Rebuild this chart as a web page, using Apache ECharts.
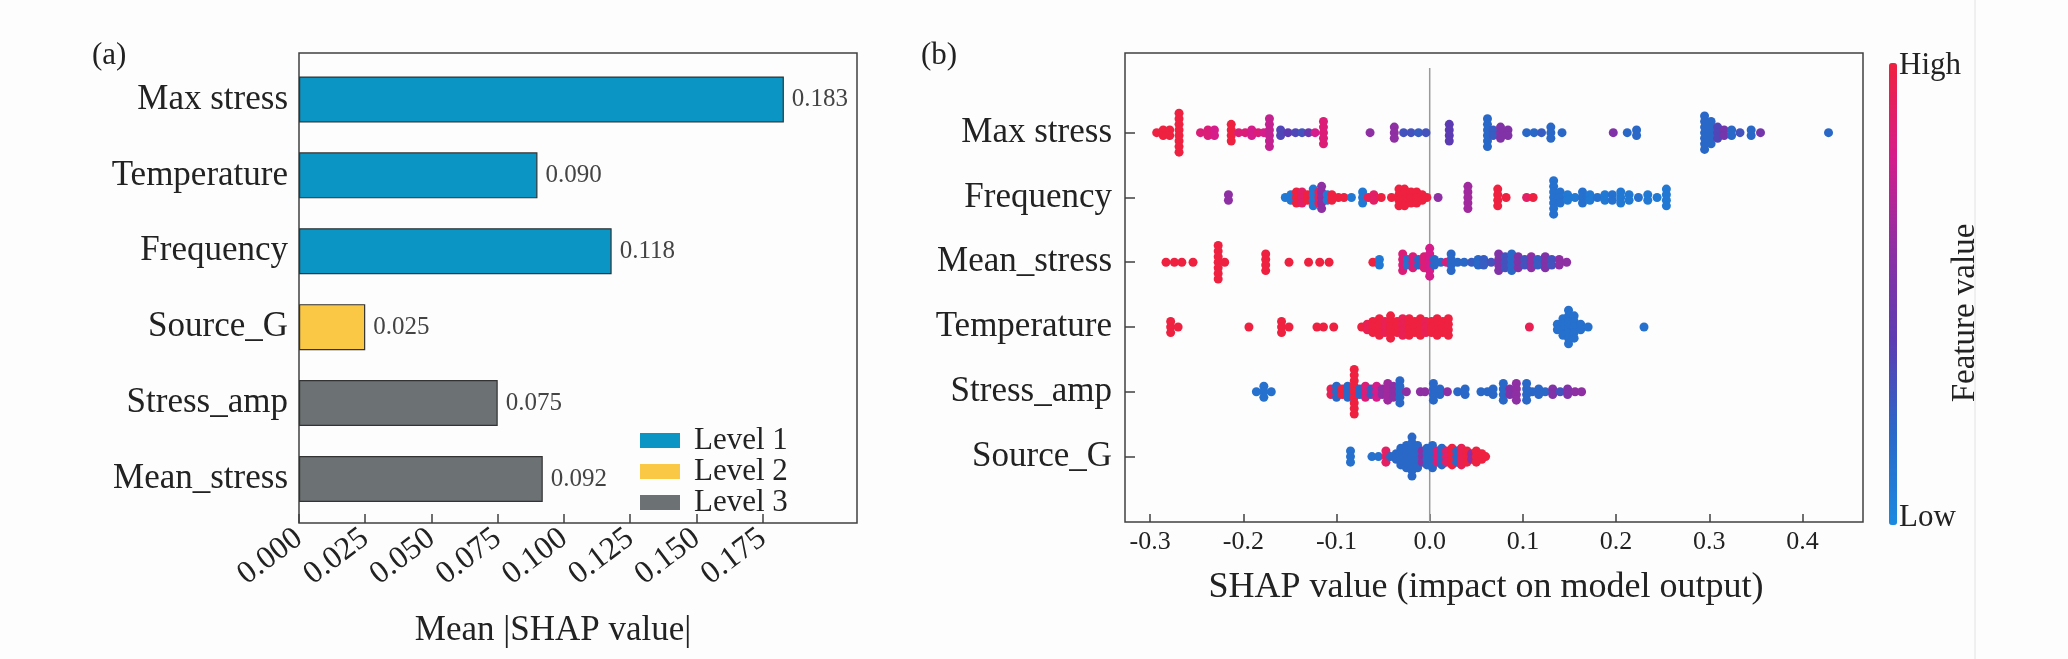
<!DOCTYPE html>
<html>
<head>
<meta charset="utf-8">
<title>SHAP importance</title>
<script src="https://cdn.jsdelivr.net/npm/echarts@6/dist/echarts.min.js"></script>
<style>
  html, body { margin: 0; padding: 0; background: #fdfdfd; }
  #chart { width: 2068px; height: 659px; }
</style>
</head>
<body>
<div id="chart"></div>
<script>
// (a) mean |SHAP| per feature, listed top to bottom
const barFeatures = ['Max stress', 'Temperature', 'Frequency', 'Source_G', 'Stress_amp', 'Mean_stress'];
const meanShap = [0.183, 0.090, 0.118, 0.025, 0.075, 0.092];
const barLevel = [1, 1, 1, 2, 3, 3];
const levelNames = ['Level 1', 'Level 2', 'Level 3'];
const levelColors = ['#0a95c4', '#fac844', '#6c7274'];
const meanTicks = [0, 0.025, 0.05, 0.075, 0.1, 0.125, 0.15, 0.175];

// (b) beeswarm rows, top to bottom
// each entry: [shap value, dots stacked at that x, feature value 0 (low) .. 1 (high)]
const swarmFeatures = ['Max stress', 'Frequency', 'Mean_stress', 'Temperature', 'Stress_amp', 'Source_G'];

const maxStressPts = [
  [-0.293, 1, 1], [-0.286, 2, 1], [-0.279, 2, 1], [-0.269, 8, 1],
  [-0.246, 1, 0.85], [-0.238, 2, 0.85], [-0.231, 2, 0.8],
  [-0.213, 4, 1],
  [-0.205, 1, 0.85], [-0.198, 1, 0.85], [-0.191, 2, 0.8], [-0.184, 1, 0.85], [-0.178, 1, 0.8],
  [-0.172, 6, 0.75],
  [-0.160, 2, 0.35], [-0.152, 1, 0.4], [-0.144, 1, 0.35], [-0.137, 1, 0.3], [-0.130, 1, 0.45], [-0.123, 1, 0.8],
  [-0.114, 5, 0.85],
  [-0.064, 1, 0.6],
  [-0.038, 3, 0.6],
  [-0.028, 1, 0.3], [-0.020, 1, 0.3], [-0.012, 1, 0.25], [-0.004, 1, 0.3],
  [0.021, 4, 0.4],
  [0.062, 6, 0.2], [0.068, 2, 0.25], [0.076, 3, 0.55], [0.084, 2, 0.55],
  [0.104, 1, 0.2], [0.112, 1, 0.2], [0.120, 1, 0.25], [0.130, 3, 0.2], [0.142, 1, 0.2],
  [0.197, 1, 0.55], [0.212, 1, 0.2], [0.222, 2, 0.2],
  [0.295, 7, 0.2], [0.302, 5, 0.2], [0.309, 3, 0.35], [0.316, 2, 0.5], [0.324, 2, 0.2],
  [0.333, 1, 0.3], [0.345, 2, 0.2], [0.355, 1, 0.5],
  [0.428, 1, 0.2]
];

const frequencyPts = [
  [-0.216, 2, 0.6],
  [-0.155, 1, 0.1], [-0.149, 2, 0.1], [-0.143, 3, 1], [-0.137, 3, 0.9], [-0.131, 2, 1],
  [-0.125, 4, 0.1], [-0.119, 3, 0.95], [-0.116, 5, 0.6], [-0.110, 2, 0.1], [-0.105, 2, 1],
  [-0.098, 1, 1], [-0.092, 1, 1],
  [-0.084, 1, 0.1], [-0.072, 3, 0.1], [-0.066, 1, 0.95], [-0.060, 2, 0.9], [-0.052, 1, 1], [-0.041, 1, 1],
  [-0.033, 4, 1], [-0.027, 4, 1], [-0.020, 3, 1], [-0.014, 3, 1], [-0.008, 2, 1], [-0.003, 1, 1],
  [0.009, 1, 0.6],
  [0.041, 5, 0.65],
  [0.073, 4, 1], [0.082, 1, 1],
  [0.104, 1, 0.9], [0.111, 1, 1],
  [0.133, 7, 0.15], [0.140, 3, 0.15], [0.148, 2, 0.1], [0.156, 1, 0.1], [0.164, 3, 0.15],
  [0.172, 2, 0.1], [0.180, 1, 0.15], [0.188, 2, 0.1], [0.196, 2, 0.15], [0.205, 3, 0.1],
  [0.214, 2, 0.1], [0.224, 1, 0.15], [0.234, 2, 0.1], [0.244, 1, 0.1], [0.254, 4, 0.1]
];

const meanStressPts = [
  [-0.283, 1, 1], [-0.274, 1, 1], [-0.266, 1, 1], [-0.254, 1, 1],
  [-0.227, 7, 1], [-0.220, 1, 1],
  [-0.176, 4, 1],
  [-0.151, 1, 1],
  [-0.130, 1, 1], [-0.118, 1, 1], [-0.108, 1, 1],
  [-0.061, 1, 1], [-0.054, 2, 0.1],
  [-0.029, 4, 0.85], [-0.024, 2, 0.15], [-0.018, 3, 0.85], [-0.012, 2, 0.2], [-0.006, 3, 0.85],
  [0.0, 6, 0.8], [0.005, 2, 0.2],
  [0.012, 1, 0.2], [0.018, 1, 0.85], [0.023, 4, 0.2], [0.030, 1, 0.2], [0.037, 1, 0.2],
  [0.045, 1, 0.25], [0.052, 2, 0.2], [0.058, 2, 0.25],
  [0.066, 1, 0.3], [0.074, 4, 0.55], [0.081, 3, 0.3], [0.088, 4, 0.2], [0.095, 3, 0.55],
  [0.102, 2, 0.3], [0.109, 3, 0.6], [0.116, 2, 0.25], [0.124, 3, 0.55], [0.131, 2, 0.3],
  [0.139, 2, 0.6], [0.147, 1, 0.6]
];

const temperaturePts = [
  [-0.278, 3, 1], [-0.270, 1, 1],
  [-0.194, 1, 1],
  [-0.159, 3, 1], [-0.151, 1, 1],
  [-0.121, 1, 1], [-0.114, 1, 1], [-0.103, 1, 1],
  [-0.073, 1, 1], [-0.067, 2, 0.95], [-0.061, 3, 1], [-0.054, 4, 1], [-0.048, 3, 0.95],
  [-0.042, 5, 1], [-0.035, 3, 1], [-0.029, 4, 0.95], [-0.022, 4, 1], [-0.016, 3, 1],
  [-0.010, 4, 1], [-0.004, 3, 0.95], [0.002, 3, 1], [0.008, 4, 1], [0.014, 3, 1], [0.020, 4, 1],
  [0.107, 1, 0.95],
  [0.137, 2, 0.15], [0.143, 4, 0.15], [0.149, 7, 0.15], [0.155, 5, 0.15], [0.162, 2, 0.15],
  [0.170, 1, 0.15], [0.230, 1, 0.15]
];

const stressAmpPts = [
  [-0.186, 1, 0.15], [-0.178, 3, 0.15], [-0.170, 1, 0.15],
  [-0.106, 2, 0.95], [-0.100, 3, 0.2], [-0.094, 2, 1], [-0.088, 3, 0.2], [-0.081, 9, 1],
  [-0.075, 2, 0.2], [-0.069, 3, 0.85], [-0.063, 2, 0.25], [-0.057, 3, 0.8], [-0.051, 2, 0.6],
  [-0.045, 4, 0.65], [-0.039, 3, 0.6], [-0.032, 5, 0.2], [-0.025, 1, 0.6],
  [-0.010, 1, 0.6], [-0.005, 1, 0.6], [0.004, 4, 0.2], [0.011, 2, 0.2], [0.019, 1, 0.6],
  [0.030, 1, 0.2], [0.038, 2, 0.2],
  [0.055, 1, 0.2], [0.062, 1, 0.2], [0.068, 2, 0.2], [0.079, 4, 0.2], [0.086, 2, 0.55],
  [0.093, 4, 0.6], [0.104, 4, 0.2], [0.110, 1, 0.2], [0.117, 2, 0.2], [0.124, 1, 0.2],
  [0.132, 2, 0.55], [0.140, 1, 0.3], [0.148, 2, 0.55], [0.156, 1, 0.6], [0.163, 1, 0.6]
];

const sourceGPts = [
  [-0.085, 3, 0.15], [-0.062, 1, 0.15], [-0.055, 1, 0.15], [-0.047, 3, 0.9], [-0.042, 1, 0.2],
  [-0.036, 2, 0.2], [-0.031, 4, 0.2], [-0.025, 5, 0.2], [-0.019, 8, 0.2], [-0.013, 5, 0.2],
  [-0.008, 3, 0.6], [-0.003, 4, 0.2], [0.003, 5, 0.2], [0.008, 3, 0.85], [0.013, 4, 0.2],
  [0.018, 3, 0.9], [0.024, 4, 1], [0.029, 3, 0.2], [0.034, 4, 0.95], [0.040, 3, 1],
  [0.045, 2, 0.6], [0.050, 3, 1], [0.056, 2, 1], [0.060, 1, 1]
];

const shapTicks = [-0.3, -0.2, -0.1, 0, 0.1, 0.2, 0.3, 0.4];
const rowTicks = [0, 1, 2, 3, 4, 5];
const zeroLine = [[0, -1], [0, 6.01]];

const SERIF = 'Liberation Serif';
const INK = '#222';
const FRAME = '#404040';

// stack the dots of one x vertically around the row centre
const DOT_STEP = 0.086;
const swarm = (rows) => {
  const out = [];
  rows.forEach((pts, row) => {
    pts.forEach(([x, n, f]) => {
      for (let k = 0; k < n; k++) {
        out.push([x, row + (k - (n - 1) / 2) * DOT_STEP, f]);
      }
    });
  });
  return out;
};

const swarmData = swarm([maxStressPts, frequencyPts, meanStressPts, temperaturePts, stressAmpPts, sourceGPts]);

const barSeries = levelNames.map((name, li) => ({
  name,
  type: 'bar',
  stack: 'level',
  xAxisIndex: 1,
  yAxisIndex: 1,
  barWidth: 46,
  itemStyle: { color: levelColors[li], borderColor: '#333', borderWidth: 1.2 },
  label: {
    show: true,
    position: 'right',
    distance: 8,
    fontFamily: SERIF,
    fontSize: 25,
    color: '#444',
    formatter: (p) => (p.value == null ? '' : Number(p.value).toFixed(3))
  },
  data: meanShap.map((v, i) => (barLevel[i] === li + 1 ? v : null))
}));

const option = {
  backgroundColor: '#fdfdfd',
  animation: false,
  textStyle: { fontFamily: SERIF },
  grid: [
    // frame of (a)
    { left: 299, top: 53, width: 558, height: 470, show: true, borderColor: FRAME, borderWidth: 1.5,
      containLabel: false, outerBoundsMode: 'none' },
    // bars of (a)
    { left: 299, top: 61.5, width: 558, height: 455.4, containLabel: false, outerBoundsMode: 'none' },
    // (b)
    { left: 1125, top: 53, width: 738, height: 469, show: true, borderColor: FRAME, borderWidth: 1.5,
      containLabel: false, outerBoundsMode: 'none' }
  ],
  legend: {
    data: levelNames,
    orient: 'vertical',
    left: 640,
    top: 425,
    padding: 0,
    itemGap: 0,
    itemWidth: 40,
    itemHeight: 15,
    icon: 'rect',
    itemStyle: { borderWidth: 0 },
    textStyle: { fontFamily: SERIF, fontSize: 31, color: INK, lineHeight: 28.3, padding: [0, 0, 0, 9] }
  },
  xAxis: [
    {
      gridIndex: 0, type: 'value', min: 0, max: 0.2106,
      axisLine: { show: false, onZero: false },
      splitLine: { show: false },
      axisTick: { show: true, inside: true, length: 9, customValues: meanTicks, lineStyle: { color: FRAME, width: 1.5 } },
      axisLabel: {
        customValues: meanTicks, rotate: 37, margin: 12,
        fontFamily: SERIF, fontSize: 32, color: INK,
        formatter: (v) => v.toFixed(3)
      },
      name: 'Mean |SHAP value|',
      nameLocation: 'middle',
      nameGap: 90,
      nameTextStyle: { fontFamily: SERIF, fontSize: 35, color: INK, padding: [0, 50, 0, 0] }
    },
    { gridIndex: 1, type: 'value', min: 0, max: 0.2106, show: false },
    {
      gridIndex: 2, type: 'value', min: -0.327, max: 0.465,
      axisLine: { show: false, onZero: false },
      splitLine: { show: false },
      axisTick: { show: true, inside: true, length: 8, customValues: shapTicks, lineStyle: { color: FRAME, width: 1.5 } },
      axisLabel: {
        customValues: shapTicks, margin: 7,
        fontFamily: SERIF, fontSize: 26, color: INK,
        formatter: (v) => v.toFixed(1)
      },
      name: 'SHAP value (impact on model output)',
      nameLocation: 'middle',
      nameGap: 48,
      nameTextStyle: { fontFamily: SERIF, fontSize: 36, color: INK, padding: [0, 16, 0, 0] }
    }
  ],
  yAxis: [
    { gridIndex: 0, type: 'value', min: 0, max: 1, show: false },
    {
      gridIndex: 1, type: 'category', inverse: true, data: barFeatures,
      axisLine: { show: false, onZero: false },
      axisTick: { show: true, inside: true, length: 8, alignWithLabel: true, lineStyle: { color: FRAME, width: 1.5 } },
      axisLabel: { margin: 11, fontFamily: SERIF, fontSize: 35, color: INK }
    },
    {
      gridIndex: 2, type: 'value', min: -1.23, max: 6.01, inverse: true,
      axisLine: { show: false, onZero: false },
      splitLine: { show: false },
      axisTick: { show: true, inside: true, length: 10, customValues: rowTicks, lineStyle: { color: FRAME, width: 1.5 } },
      axisLabel: {
        customValues: rowTicks, margin: 13,
        fontFamily: SERIF, fontSize: 35, color: INK,
        formatter: (v) => swarmFeatures[Math.round(v)] || ''
      }
    }
  ],
  visualMap: {
    type: 'continuous',
    min: 0,
    max: 1,
    dimension: 2,
    seriesIndex: 4,
    orient: 'vertical',
    left: 1889,
    top: 63,
    itemWidth: 8,
    itemHeight: 462,
    padding: 0,
    calculable: false,
    hoverLink: false,
    text: null,
    inRange: { color: ['#1a8ae0', '#2a68c8', '#5c3bb2', '#8e2fa3', '#d61c8a', '#ef2140'] }
  },
  graphic: [
    { type: 'text', left: 92, top: 40, style: { text: '(a)', fontFamily: SERIF, fontSize: 31, fill: INK } },
    { type: 'text', left: 921, top: 40, style: { text: '(b)', fontFamily: SERIF, fontSize: 31, fill: INK } },
    { type: 'text', left: 1899, top: 50, style: { text: 'High', fontFamily: SERIF, fontSize: 31, fill: INK } },
    { type: 'text', left: 1899, top: 502, style: { text: 'Low', fontFamily: SERIF, fontSize: 31, fill: INK } },
    {
      type: 'text', x: 1965, y: 313, rotation: Math.PI / 2,
      style: { text: 'Feature value', fontFamily: SERIF, fontSize: 33, fill: INK,
        align: 'center', verticalAlign: 'middle', textAlign: 'center', textVerticalAlign: 'middle' }
    },
    { type: 'line', shape: { x1: 1975, y1: 0, x2: 1975, y2: 659 }, style: { stroke: '#e2e2e2', lineWidth: 1 } }
  ],
  series: [
    ...barSeries,
    {
      type: 'line',
      xAxisIndex: 2,
      yAxisIndex: 2,
      data: zeroLine,
      symbol: 'none',
      silent: true,
      z: 1,
      lineStyle: { color: '#9a9a9a', width: 1.5 }
    },
    {
      type: 'scatter',
      xAxisIndex: 2,
      yAxisIndex: 2,
      symbol: 'circle',
      symbolSize: 9,
      z: 2,
      itemStyle: { opacity: 1 },
      data: swarmData
    }
  ]
};

const chart = echarts.init(document.getElementById('chart'));
chart.setOption(option);
</script>
</body>
</html>
